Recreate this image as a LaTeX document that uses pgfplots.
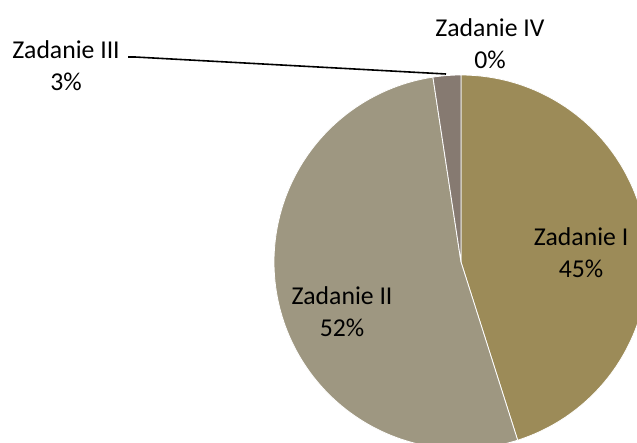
\documentclass[border=0pt]{standalone}
\usepackage{fontspec}
\setmainfont{Carlito}
\usepackage{pgfplots}
\pgfplotsset{compat=1.18}
\definecolor{cI}{RGB}{156,139,88}
\definecolor{cII}{RGB}{158,151,129}
\definecolor{cIII}{RGB}{134,122,113}
\definecolor{cIV}{RGB}{120,110,90}
% shares in percent
\def\vI{45.1}
\def\vII{52.5}
\def\vIII{2.4}
\def\vIV{0}
\tikzset{lbl/.style={font=\fontsize{25.8}{32}\selectfont, align=center, text=black, inner sep=0pt}}
\begin{document}
\begin{tikzpicture}
\pgfmathsetmacro\aA{0}
\pgfmathsetmacro\aB{\aA+3.6*\vI}
\pgfmathsetmacro\aC{\aB+3.6*\vII}
\pgfmathsetmacro\aD{\aC+3.6*\vIII}
\begin{axis}[
  scale only axis, width=637bp, height=443bp,
  xmin=0, xmax=637, ymin=0, ymax=443, y dir=reverse,
  hide axis, clip=true,
]
\addplot[fill=cI, draw=white, line width=0.8pt, samples=120, domain=\aA:\aB, variable=\t]
  ({461+187*sin(\t)},{262-187*cos(\t)}) -- (axis cs:461,262) -- cycle;
\addplot[fill=cII, draw=white, line width=0.8pt, samples=120, domain=\aB:\aC, variable=\t]
  ({461+187*sin(\t)},{262-187*cos(\t)}) -- (axis cs:461,262) -- cycle;
\addplot[fill=cIII, draw=white, line width=0.8pt, samples=10, domain=\aC:\aD, variable=\t]
  ({461+187*sin(\t)},{262-187*cos(\t)}) -- (axis cs:461,262) -- cycle;
\draw[black, line width=1.6pt] (axis cs:128,57) -- (axis cs:135,57) -- (axis cs:446,74);
\node[lbl] at (axis cs:581,253) {Zadanie I\\45\%};
\node[lbl] at (axis cs:342,312) {Zadanie II\\52\%};
\node[lbl] at (axis cs:66,66) {Zadanie III\\3\%};
\node[lbl] at (axis cs:490,44) {Zadanie IV\\0\%};
\end{axis}
\pgfresetboundingbox
\path (current axis.south west) rectangle (current axis.north east);
\end{tikzpicture}
\end{document}
